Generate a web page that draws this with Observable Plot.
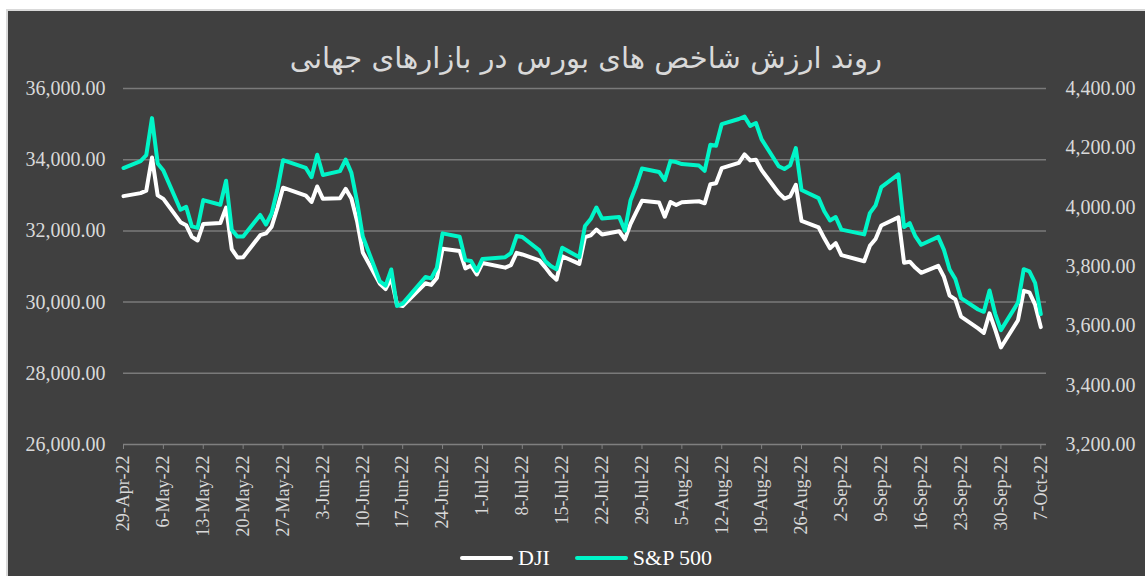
<!DOCTYPE html>
<html><head><meta charset="utf-8">
<script src="https://cdn.jsdelivr.net/npm/d3@7"></script>
<script src="https://cdn.jsdelivr.net/npm/@observablehq/plot@0.6"></script>
<style>
html,body{margin:0;padding:0;background:#fff;overflow:hidden;width:1145px;height:576px}
#wrap{position:absolute;left:6px;top:9px;width:1145px;height:580px;border:2px solid #d9d9d9;background:#404040;}
#title{height:50px;line-height:50px;text-align:center;color:#d9d9d9;font-family:"DejaVu Sans",sans-serif;font-size:29px;direction:rtl;width:1156px;white-space:nowrap;position:relative;top:22px;z-index:1}
#chart svg{display:block}
#legend{height:37px;display:flex;align-items:center;padding-left:452px;font-family:"Liberation Serif",serif;font-size:22px;color:#fff}
.sw{width:53px;height:4px;border-radius:2px;margin-right:5px}
.item{display:flex;align-items:center;margin-right:25px}
</style></head>
<body>
<div id="wrap">
  <div id="title">روند ارزش شاخص های بورس در بازارهای جهانی</div>
  <div id="chart"></div>
  <div id="legend"></div>
</div>
<script>
const dates = [
"2022-04-29",
"2022-05-02","2022-05-03","2022-05-04","2022-05-05","2022-05-06","2022-05-09","2022-05-10","2022-05-11","2022-05-12","2022-05-13","2022-05-16","2022-05-17","2022-05-18","2022-05-19","2022-05-20","2022-05-23","2022-05-24","2022-05-25","2022-05-26","2022-05-27","2022-05-31",
"2022-06-01","2022-06-02","2022-06-03","2022-06-06","2022-06-07","2022-06-08","2022-06-09","2022-06-10","2022-06-13","2022-06-14","2022-06-15","2022-06-16","2022-06-17","2022-06-21","2022-06-22","2022-06-23","2022-06-24","2022-06-27","2022-06-28","2022-06-29","2022-06-30",
"2022-07-01","2022-07-05","2022-07-06","2022-07-07","2022-07-08","2022-07-11","2022-07-12","2022-07-13","2022-07-14","2022-07-15","2022-07-18","2022-07-19","2022-07-20","2022-07-21","2022-07-22","2022-07-25","2022-07-26","2022-07-27","2022-07-28","2022-07-29",
"2022-08-01","2022-08-02","2022-08-03","2022-08-04","2022-08-05","2022-08-08","2022-08-09","2022-08-10","2022-08-11","2022-08-12","2022-08-15","2022-08-16","2022-08-17","2022-08-18","2022-08-19","2022-08-22","2022-08-23","2022-08-24","2022-08-25","2022-08-26","2022-08-29","2022-08-30","2022-08-31",
"2022-09-01","2022-09-02","2022-09-06","2022-09-07","2022-09-08","2022-09-09","2022-09-12","2022-09-13","2022-09-14","2022-09-15","2022-09-16","2022-09-19","2022-09-20","2022-09-21","2022-09-22","2022-09-23","2022-09-26","2022-09-27","2022-09-28","2022-09-29","2022-09-30",
"2022-10-03","2022-10-04","2022-10-05","2022-10-06","2022-10-07"];
const dji = [
32977,
33061,33129,34061,32998,32899,32246,32161,31834,31730,32197,32223,32655,31490,31253,31262,31880,31929,32120,32637,33213,32990,
32813,33248,32900,32916,33180,32910,32273,31393,30517,30365,30669,29927,29889,30530,30484,30677,31501,31438,30947,31029,30775,
31097,30968,31037,31385,31338,31173,30982,30773,30630,31289,31073,31827,31875,32037,31900,31990,31762,32198,32530,32845,
32798,32397,32813,32727,32803,32833,32775,33310,33337,33761,33913,34152,33981,33999,33707,33064,32910,32970,33292,32283,32099,31791,31510,
31656,31318,31146,31581,31775,32152,32381,31105,31135,30962,30822,31020,30706,30184,30077,29590,29261,29135,29684,29226,28726,
29491,30317,30274,29927,29297];
const sp500 = [
4131.93,
4155.38,4175.48,4300.17,4146.87,4123.34,3991.24,4001.05,3935.18,3930.08,4023.89,4008.01,4088.85,3923.68,3900.79,3901.36,3973.75,3941.48,3978.73,4057.84,4158.24,4132.15,
4101.23,4176.82,4108.54,4121.43,4160.68,4115.77,4017.82,3900.86,3749.63,3735.48,3789.99,3666.77,3674.84,3764.79,3759.89,3795.73,3911.74,3900.11,3821.55,3818.83,3785.38,
3825.33,3831.39,3845.08,3902.62,3899.38,3854.43,3818.80,3801.78,3790.38,3863.16,3830.85,3936.69,3959.90,3998.95,3961.63,3966.84,3921.05,4023.61,4072.43,4130.29,
4118.63,4091.19,4155.17,4151.94,4145.19,4140.06,4122.47,4210.24,4207.27,4280.15,4297.14,4305.20,4274.04,4283.74,4228.48,4137.99,4128.73,4140.77,4199.12,4057.66,4030.61,3986.16,3955.00,
3966.85,3924.26,3908.19,3979.87,4006.18,4067.36,4110.41,3932.69,3946.01,3901.35,3873.33,3899.89,3855.93,3789.93,3757.99,3693.23,3655.04,3647.29,3719.04,3640.47,3585.62,
3678.43,3790.93,3783.28,3744.52,3639.66];
const djiTicks = [26000,28000,30000,32000,34000,36000];
const spTicks = [3200,3400,3600,3800,4000,4200,4400];
const seriesNames = ["DJI","S&P 500"];
const seriesColors = ["#ffffff","#00f5c8"];

const spToDji = v => 26000 + (v - 3200) / 1200 * 10000;
const djiToSp = v => 3200 + (v - 26000) / 10000 * 1200;
const rows = dates.map((d,i)=>({date:new Date(d+"T00:00:00Z"), dji:dji[i], sp:spToDji(sp500[i])}));
const x0 = new Date("2022-04-29T00:00:00Z"), x1 = new Date("2022-10-08T00:00:00Z");
const fridays = d3.utcFriday.range(x0, x1);
const fmt2 = d3.format(",.2f");
const fmtDate = d3.utcFormat("%-d-%b-%y");

const chart = Plot.plot({
  width:1137, height:478, marginLeft:115, marginRight:99, marginTop:27, marginBottom:95,
  style:{background:"transparent", color:"#d9d9d9", fontFamily:"'Liberation Serif','Times New Roman',serif", overflow:"visible"},
  x:{type:"utc", domain:[x0,x1]},
  y:{domain:[26000,36000]},
  marks:[
    Plot.gridY(djiTicks.slice(1),{stroke:"#7a7a7a", strokeOpacity:1, strokeWidth:1.5}),
    Plot.ruleY([26000],{stroke:"#808080", strokeWidth:1.5}),
    Plot.axisX(fridays,{anchor:"bottom", tickSize:5, tickPadding:6, tickRotate:-90, tickFormat:fmtDate, stroke:"#808080", color:"#d9d9d9", fill:"#d9d9d9", fontSize:18, label:null}),
    Plot.axisY(djiTicks,{anchor:"left", tickSize:0, tickPadding:18, tickFormat:fmt2, fontSize:20, fill:"#d9d9d9", label:null}),
    Plot.axisY(spTicks.map(spToDji),{anchor:"right", tickSize:0, tickPadding:19, tickFormat:v=>fmt2(Math.round(djiToSp(v))), fontSize:20, fill:"#d9d9d9", label:null}),
    Plot.line(rows,{x:"date", y:"dji", stroke:seriesColors[0], strokeWidth:4, strokeLinejoin:"round"}),
    Plot.line(rows,{x:"date", y:"sp", stroke:seriesColors[1], strokeWidth:4, strokeLinejoin:"round"})
  ]
});
document.getElementById("chart").appendChild(chart);

const lg = document.getElementById("legend");
seriesNames.forEach((n,i)=>{
  const it = document.createElement("div"); it.className="item";
  const sw = document.createElement("div"); sw.className="sw"; sw.style.background=seriesColors[i];
  const t = document.createElement("span"); t.textContent=n;
  it.appendChild(sw); it.appendChild(t); lg.appendChild(it);
});
</script>
</body></html>
